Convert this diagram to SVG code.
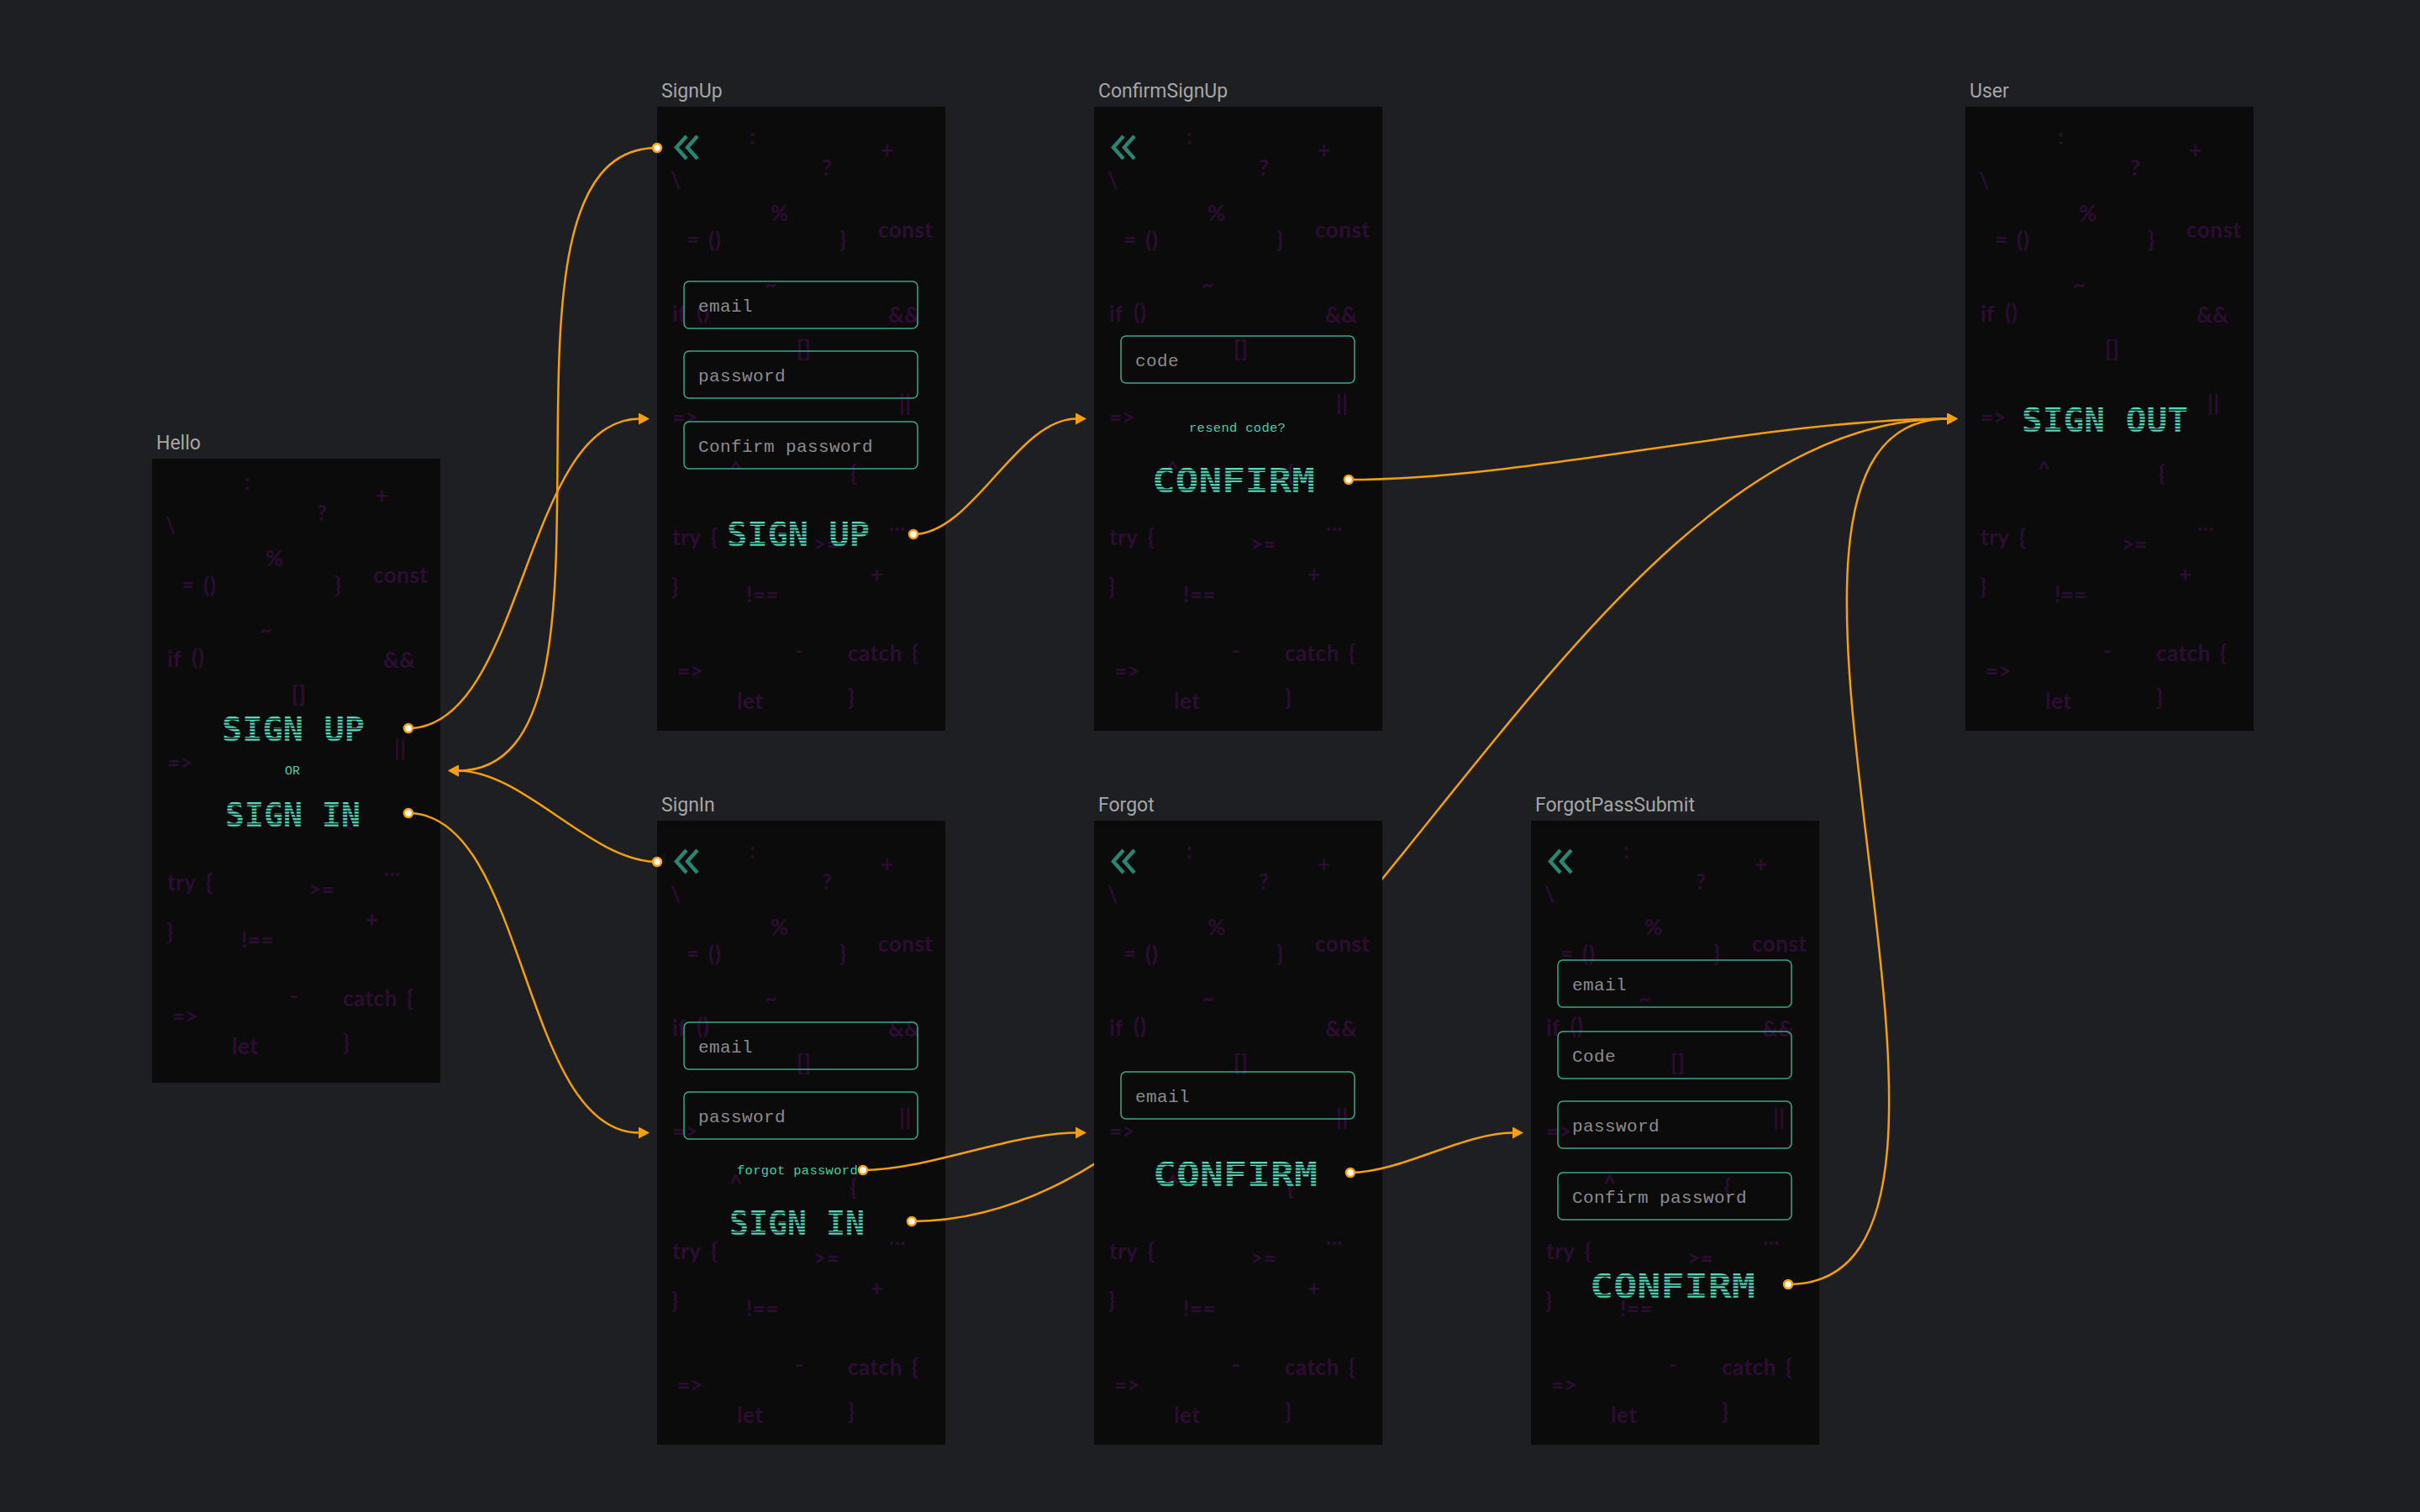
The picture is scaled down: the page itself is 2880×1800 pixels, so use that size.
<svg xmlns="http://www.w3.org/2000/svg" width="2880" height="1800" viewBox="0 0 2880 1800">
  <defs>
    <style>
      .frame-label { font-family: Roboto, "Liberation Sans", sans-serif; font-size: 23px; fill: #a6a6a6; }
      .frame { fill: #0b0b0b; }
      .code { font-family: Lato, "Liberation Sans", sans-serif; font-weight: 700; font-size: 26px; fill: #2d0d33; letter-spacing: 0.5px; }
      .field { fill: none; stroke: #3aa88f; stroke-width: 1.5; }
      .placeholder { font-family: "Liberation Mono", monospace; font-size: 21px; letter-spacing: 0.4px; fill: #8b8b8b; }
      .link { font-family: "Liberation Mono", monospace; font-size: 15.5px; letter-spacing: 0.3px; fill: #4ccaa9; }
      .pixel { font-family: "DejaVu Sans Mono", monospace; font-weight: 700; font-size: 39.6px; fill: url(#scanlines); }
      .chevron { fill: none; stroke: #2a8572; stroke-width: 4.5; stroke-linejoin: miter; }
      .wire { fill: none; stroke: #f5a00b; stroke-width: 2.5; }
      .port { fill: #ffffff; stroke: #f5a00b; stroke-width: 2.5; }
    </style>

    <!-- horizontal scanline fill for the big button captions -->
    <pattern id="scanlines" patternUnits="userSpaceOnUse" width="8" height="3.8">
      <rect width="8" height="2.3" fill="#57dcbc"/>
    </pattern>

    <marker id="arrowhead" markerUnits="userSpaceOnUse" viewBox="0 0 14 14" markerWidth="14" markerHeight="14" refX="1" refY="7" orient="auto">
      <path d="M0,0 L13,7 L0,14 Z" fill="#f5a00b"/>
    </marker>

    <!-- the long SignIn → User wire runs underneath the Forgot screen -->
    <mask id="under-forgot" maskUnits="userSpaceOnUse" x="0" y="0" width="2880" height="1800">
      <rect width="2880" height="1800" fill="#fff"/>
      <rect x="1302" y="977" width="343" height="743" fill="#000"/>
    </mask>

    <!-- faint code glyphs used as the screen wallpaper -->
    <g id="code-bg" class="code">
      <text x="110" y="45">:</text>
      <text x="266" y="61">+</text>
      <text x="196" y="82">?</text>
      <text x="16" y="97">\</text>
      <text x="135" y="136">%</text>
      <text x="35" y="167">=</text>
      <text x="61" y="168">()</text>
      <text x="217" y="168">}</text>
      <text x="263" y="156">const</text>
      <text x="128" y="221">~</text>
      <text x="18" y="256">if</text>
      <text x="47" y="254">()</text>
      <text x="275" y="257">&amp;&amp;</text>
      <text x="166" y="298">[]</text>
      <text x="288" y="363">||</text>
      <text x="18" y="379">=&gt;</text>
      <text x="86" y="441">^</text>
      <text x="230" y="446">{</text>
      <text x="18" y="522">try</text>
      <text x="64" y="522">{</text>
      <text x="186" y="530">&gt;=</text>
      <text x="276" y="505">...</text>
      <text x="254" y="566">+</text>
      <text x="17" y="581">}</text>
      <text x="106" y="590">!==</text>
      <text x="164" y="657">-</text>
      <text x="227" y="660">catch</text>
      <text x="303" y="660">{</text>
      <text x="24" y="681">=&gt;</text>
      <text x="95" y="717">let</text>
      <text x="227" y="713">}</text>
    </g>

    <g id="back-chevron">
      <path class="chevron" d="M35,35 L23,48.5 L35,62 M48,35 L36,48.5 L48,62"/>
    </g>
  </defs>

  <rect width="2880" height="1800" fill="#1e1f22"/>

  <!-- Hello -->
  <g id="hello" transform="translate(181,546)">
    <text class="frame-label" x="5" y="-11">Hello</text>
    <rect class="frame" width="343" height="743"/>
    <use href="#code-bg" y="-8"/>
    <g transform="translate(83,307)"><text class="pixel" y="28.9" textLength="170" lengthAdjust="spacingAndGlyphs">SIGN UP</text></g>
    <text x="158" y="376" font-family="Liberation Mono, monospace" font-size="15" fill="#4ccaa9">OR</text>
    <g transform="translate(87,409)"><text class="pixel" y="28.9" textLength="161" lengthAdjust="spacingAndGlyphs">SIGN IN</text></g>
  </g>

  <!-- SignUp -->
  <g id="signup" transform="translate(782,127)">
    <text class="frame-label" x="5" y="-11">SignUp</text>
    <rect class="frame" width="343" height="743"/>
    <use href="#code-bg"/>
    <use href="#back-chevron"/>
    <rect class="field" x="32" y="208" width="278" height="56" rx="6"/>
    <text class="placeholder" x="49" y="244">email</text>
    <rect class="field" x="32" y="291" width="278" height="56" rx="6"/>
    <text class="placeholder" x="49" y="327">password</text>
    <rect class="field" x="32" y="375" width="278" height="56" rx="6"/>
    <text class="placeholder" x="49" y="411">Confirm password</text>
    <g transform="translate(83,494)"><text class="pixel" y="28.9" textLength="170" lengthAdjust="spacingAndGlyphs">SIGN UP</text></g>
  </g>

  <!-- ConfirmSignUp -->
  <g id="confirm-signup" transform="translate(1302,127)">
    <text class="frame-label" x="5" y="-11">ConfirmSignUp</text>
    <rect class="frame" width="343" height="743"/>
    <use href="#code-bg"/>
    <use href="#back-chevron"/>
    <rect class="field" x="32" y="273" width="278" height="56" rx="6"/>
    <text class="placeholder" x="49" y="309">code</text>
    <text class="link" x="113" y="387">resend code?</text>
    <g transform="translate(69,430)"><text class="pixel" y="28.9" textLength="194" lengthAdjust="spacingAndGlyphs">CONFIRM</text></g>
  </g>

  <!-- User -->
  <g id="user" transform="translate(2339,127)">
    <text class="frame-label" x="5" y="-11">User</text>
    <rect class="frame" width="343" height="743"/>
    <use href="#code-bg"/>
    <g transform="translate(67,358)"><text class="pixel" y="28.9" textLength="198" lengthAdjust="spacingAndGlyphs">SIGN OUT</text></g>
  </g>

  <!-- SignIn -->
  <g id="signin" transform="translate(782,977)">
    <text class="frame-label" x="5" y="-11">SignIn</text>
    <rect class="frame" width="343" height="743"/>
    <use href="#code-bg"/>
    <use href="#back-chevron"/>
    <rect class="field" x="32" y="240" width="278" height="56" rx="6"/>
    <text class="placeholder" x="49" y="276">email</text>
    <rect class="field" x="32" y="323" width="278" height="56" rx="6"/>
    <text class="placeholder" x="49" y="359">password</text>
    <text class="link" x="95" y="421">forgot password?</text>
    <g transform="translate(86,464)"><text class="pixel" y="28.9" textLength="161" lengthAdjust="spacingAndGlyphs">SIGN IN</text></g>
  </g>

  <!-- Forgot -->
  <g id="forgot" transform="translate(1302,977)">
    <text class="frame-label" x="5" y="-11">Forgot</text>
    <rect class="frame" width="343" height="743"/>
    <use href="#code-bg"/>
    <use href="#back-chevron"/>
    <rect class="field" x="32" y="299" width="278" height="56" rx="6"/>
    <text class="placeholder" x="49" y="335">email</text>
    <g transform="translate(70,406)"><text class="pixel" y="28.9" textLength="196" lengthAdjust="spacingAndGlyphs">CONFIRM</text></g>
  </g>

  <!-- ForgotPassSubmit -->
  <g id="forgot-pass-submit" transform="translate(1822,977)">
    <text class="frame-label" x="5" y="-11">ForgotPassSubmit</text>
    <rect class="frame" width="343" height="743"/>
    <use href="#code-bg"/>
    <use href="#back-chevron"/>
    <rect class="field" x="32" y="166" width="278" height="56" rx="6"/>
    <text class="placeholder" x="49" y="202">email</text>
    <rect class="field" x="32" y="251" width="278" height="56" rx="6"/>
    <text class="placeholder" x="49" y="287">Code</text>
    <rect class="field" x="32" y="334" width="278" height="56" rx="6"/>
    <text class="placeholder" x="49" y="370">password</text>
    <rect class="field" x="32" y="419" width="278" height="56" rx="6"/>
    <text class="placeholder" x="49" y="455">Confirm password</text>
    <g transform="translate(70,539)"><text class="pixel" y="28.9" textLength="197" lengthAdjust="spacingAndGlyphs">CONFIRM</text></g>
  </g>

  <!-- navigation wires -->
  <g id="connectors">
    <path class="wire" marker-end="url(#arrowhead)" d="M486,867 C624,867 623,498.5 761,498.5"/>
    <path class="wire" marker-end="url(#arrowhead)" d="M486,968 C627,968 620,1348.5 761,1348.5"/>
    <path class="wire" marker-end="url(#arrowhead)" d="M782,176 C549,176 778,917.5 545,917.5"/>
    <path class="wire" marker-end="url(#arrowhead)" d="M782,1026 C704,1026 623,917.5 545,917.5"/>
    <path class="wire" marker-end="url(#arrowhead)" d="M1087,636 C1158,636 1210,498.5 1281,498.5"/>
    <path class="wire" marker-end="url(#arrowhead)" d="M1605,571 C1820,571 2103,498.5 2318,498.5"/>
    <path class="wire" marker-end="url(#arrowhead)" mask="url(#under-forgot)" d="M1085,1454 C1553,1454 1850,498.5 2318,498.5"/>
    <path class="wire" marker-end="url(#arrowhead)" d="M1027,1393 C1104,1393 1204,1348.5 1281,1348.5"/>
    <path class="wire" marker-end="url(#arrowhead)" d="M1607,1396 C1667,1396 1741,1348.5 1801,1348.5"/>
    <path class="wire" marker-end="url(#arrowhead)" d="M2128,1529 C2442,1529 2004,498.5 2318,498.5"/>

    <circle class="port" cx="486" cy="867" r="5"/>
    <circle class="port" cx="486" cy="968" r="5"/>
    <circle class="port" cx="782" cy="176" r="5"/>
    <circle class="port" cx="782" cy="1026" r="5"/>
    <circle class="port" cx="1087" cy="636" r="5"/>
    <circle class="port" cx="1605" cy="571" r="5"/>
    <circle class="port" cx="1085" cy="1454" r="5"/>
    <circle class="port" cx="1027" cy="1393" r="5"/>
    <circle class="port" cx="1607" cy="1396" r="5"/>
    <circle class="port" cx="2128" cy="1529" r="5"/>
  </g>
</svg>
